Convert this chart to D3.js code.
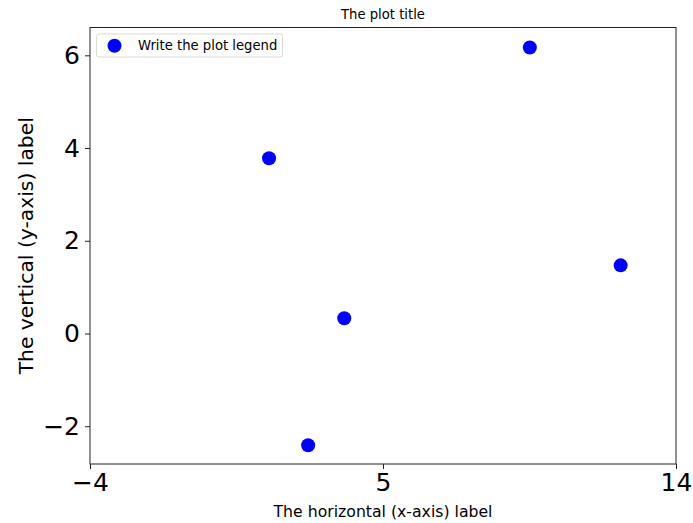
<!DOCTYPE html>
<html><head><meta charset="utf-8">
<script src="https://cdn.jsdelivr.net/npm/d3@7"></script>
<style>body{margin:0;background:#fff}svg{display:block}text{font-family:"DejaVu Sans",sans-serif}</style>
</head><body>
<svg id="c" width="693" height="523"></svg>
<script>
const xValues = [1.50, 2.70, 3.81, 9.51, 12.30];
const yValues = [3.78, -2.41, 0.33, 6.17, 1.47];
const xTicks = [-4, 5, 14];
const yTicks = [-2, 0, 2, 4, 6];
const titleText = "The plot title";
const xLabel = "The horizontal (x-axis) label";
const yLabel = "The vertical (y-axis) label";
const legendLabel = "Write the plot legend";

const svg = d3.select("#c");
const L = 90, R = 676, T = 27.5, B = 464;
const x = d3.scaleLinear().domain([-4, 14]).range([L, R]);
const y = d3.scaleLinear().domain([-2.815, 6.6]).range([B, T]);

// frame
svg.append("rect").attr("x", L).attr("y", T).attr("width", R - L).attr("height", B - T)
  .attr("fill", "none").attr("stroke", "#222").attr("stroke-width", 1);

const xa = svg.append("g").attr("transform", `translate(0,${B})`)
  .call(d3.axisBottom(x).tickValues(xTicks).tickSize(5).tickPadding(4).tickFormat(d => d < 0 ? "\u2212" + Math.abs(d) : d));
const ya = svg.append("g").attr("transform", `translate(${L},0)`)
  .call(d3.axisLeft(y).tickValues(yTicks).tickSize(5).tickPadding(5).tickFormat(d => d < 0 ? "\u2212" + Math.abs(d) : d));
[xa, ya].forEach(a => {
  a.select(".domain").remove();
  a.selectAll("line").attr("stroke", "#222");
  a.selectAll("text").attr("font-size", 25).attr("fill", "#000").style("font-family", "DejaVu Sans");
});

svg.selectAll("circle.pt").data(xValues.map((v, i) => [v, yValues[i]])).enter()
  .append("circle").attr("class", "pt")
  .attr("cx", d => x(d[0])).attr("cy", d => y(d[1])).attr("r", 7).attr("fill", "#0000ff");

svg.append("text").attr("x", (L + R) / 2).attr("y", 19).attr("text-anchor", "middle")
  .attr("font-size", 13.2).text(titleText);
svg.append("text").attr("x", (L + R) / 2).attr("y", 517).attr("text-anchor", "middle")
  .attr("font-size", 15.7).text(xLabel);
svg.append("text").attr("transform", `translate(32.5,${(T + B) / 2}) rotate(-90)`).attr("text-anchor", "middle")
  .attr("font-size", 20.3).text(yLabel);

// legend
const lg = svg.append("g");
lg.append("rect").attr("x", 96.5).attr("y", 34).attr("width", 186).attr("height", 23).attr("rx", 2.5)
  .attr("fill", "#fff").attr("fill-opacity", 0.8).attr("stroke", "#d9d9d9").attr("stroke-width", 1);
lg.append("circle").attr("cx", 114.5).attr("cy", 45.7).attr("r", 7).attr("fill", "#0000ff");
lg.append("text").attr("x", 138).attr("y", 50).attr("font-size", 13.2).text(legendLabel);
</script>
</body></html>
